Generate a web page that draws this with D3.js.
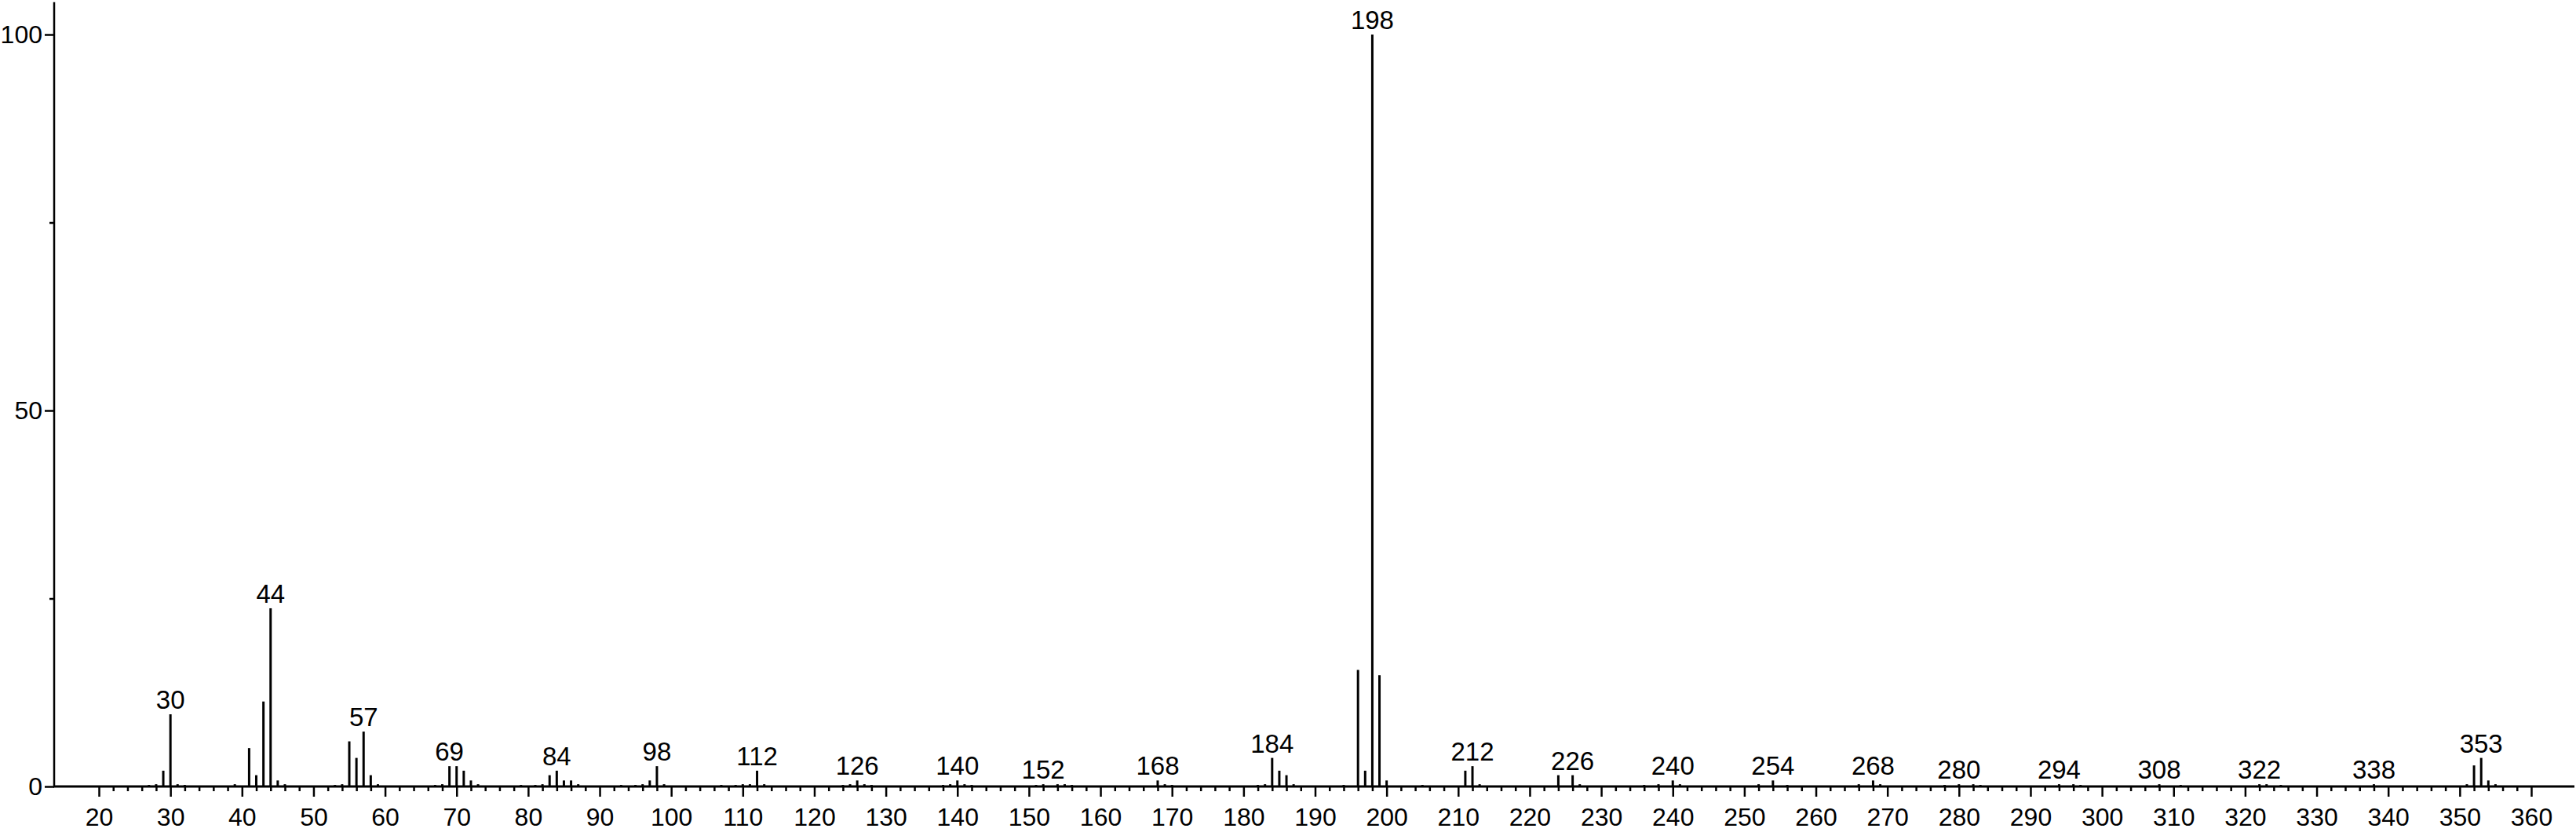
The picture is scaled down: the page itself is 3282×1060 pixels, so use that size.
<!DOCTYPE html>
<html><head><meta charset="utf-8">
<script src="https://cdn.jsdelivr.net/npm/d3@7"></script>
<style>html,body{margin:0;padding:0;background:#fff;}svg{display:block;}</style>
</head><body>
<svg id="chart" width="3282" height="1060"></svg>
<script>
const mzValues = [27,28,29,30,31,32,39,41,42,43,44,45,46,53,54,55,56,57,58,59,67,68,69,70,71,72,73,79,81,82,83,84,85,86,87,93,95,96,97,98,99,107,109,110,111,112,113,124,125,126,127,128,138,139,140,141,142,151,152,154,155,156,168,169,170,182,183,184,185,186,187,194,196,197,198,199,200,205,211,212,213,224,226,227,236,238,240,241,252,254,256,266,268,269,278,280,282,283,294,296,297,308,311,322,323,325,338,351,352,353,354,355];
const intensities = [0.2,0.3,2.1,9.6,0.3,0.2,0.3,5.1,1.5,11.3,23.7,0.8,0.3,0.2,0.3,6.0,3.8,7.3,1.5,0.3,0.2,0.3,2.7,2.7,2.1,0.8,0.3,0.2,0.2,0.3,1.5,2.1,0.8,0.8,0.3,0.2,0.2,0.3,0.8,2.7,0.3,0.2,0.2,0.3,0.3,2.1,0.3,0.2,0.3,0.8,0.3,0.2,0.2,0.3,0.8,0.3,0.2,0.2,0.3,0.3,0.3,0.2,0.8,0.3,0.2,0.2,0.3,3.8,2.1,1.5,0.3,0.2,15.5,2.1,100,14.8,0.8,0.2,2.1,2.7,0.3,1.5,1.5,0.3,0.2,0.3,0.8,0.3,0.3,0.8,0.2,0.3,0.8,0.3,0.2,0.3,0.3,0.2,0.3,0.3,0.2,0.3,0.2,0.3,0.3,0.2,0.3,0.3,2.8,3.8,0.8,0.3];
const labeledPeaks = [30,44,57,69,84,98,112,126,140,152,168,184,198,212,226,240,254,268,280,294,308,322,338,353];
const xMajorTicks = d3.range(20, 361, 10);
const xMinorTicks = d3.range(20, 361, 2).filter(v => v % 10 !== 0);
const yMajorTicks = [0, 50, 100];
const yMinorTicks = [25, 75];

const peaks = mzValues.map((m, i) => ({mz: m, v: intensities[i]}));

const svg = d3.select("#chart");
const x = d3.scaleLinear().domain([20, 360]).range([126, 3225]);
const y = d3.scaleLinear().domain([0, 100]).range([1002, 44]);
const font = "'Liberation Sans', Arial, sans-serif";

// peaks
svg.append("g").selectAll("line").data(peaks).join("line")
  .attr("x1", d => x(d.mz)).attr("x2", d => x(d.mz))
  .attr("y1", y(0)).attr("y2", d => y(d.v))
  .attr("stroke", "#000").attr("stroke-width", 3);

// x axis
const xAxisG = svg.append("g").attr("transform", `translate(0,${y(0)})`);
xAxisG.append("g").call(d3.axisBottom(x).tickValues(xMinorTicks).tickSize(6).tickFormat(""))
  .call(g => g.select(".domain").remove());
xAxisG.append("g").call(d3.axisBottom(x).tickValues(xMajorTicks).tickSize(13).tickPadding(14).tickFormat(d3.format("d")))
  .call(g => g.select(".domain").remove());
xAxisG.selectAll("line").attr("stroke", "#000").attr("stroke-width", 2.5);
xAxisG.selectAll("text").attr("font-family", font).attr("font-size", 32).attr("fill", "#000");
xAxisG.append("line").attr("x1", 68).attr("x2", 3280).attr("y1", 0).attr("y2", 0)
  .attr("stroke", "#000").attr("stroke-width", 2.8);

// y axis
const yAxisG = svg.append("g").attr("transform", `translate(69,0)`);
yAxisG.append("g").call(d3.axisLeft(y).tickValues(yMinorTicks).tickSize(6).tickFormat(""))
  .call(g => g.select(".domain").remove());
yAxisG.append("g").call(d3.axisLeft(y).tickValues(yMajorTicks).tickSize(12).tickPadding(3).tickFormat(d3.format("d")))
  .call(g => g.select(".domain").remove());
yAxisG.selectAll("line").attr("stroke", "#000").attr("stroke-width", 2.5);
yAxisG.selectAll("text").attr("font-family", font).attr("font-size", 32).attr("fill", "#000");
yAxisG.append("line").attr("x1", 0).attr("x2", 0).attr("y1", y(0) + 1).attr("y2", y(104.3))
  .attr("stroke", "#000").attr("stroke-width", 2.5);

// peak labels
svg.append("g").selectAll("text").data(peaks.filter(p => labeledPeaks.includes(p.mz))).join("text")
  .attr("x", d => x(d.mz)).attr("y", d => y(d.v) - 7)
  .attr("text-anchor", "middle")
  .attr("font-family", font).attr("font-size", 33).attr("fill", "#000")
  .text(d => d.mz);
</script>
</body></html>
